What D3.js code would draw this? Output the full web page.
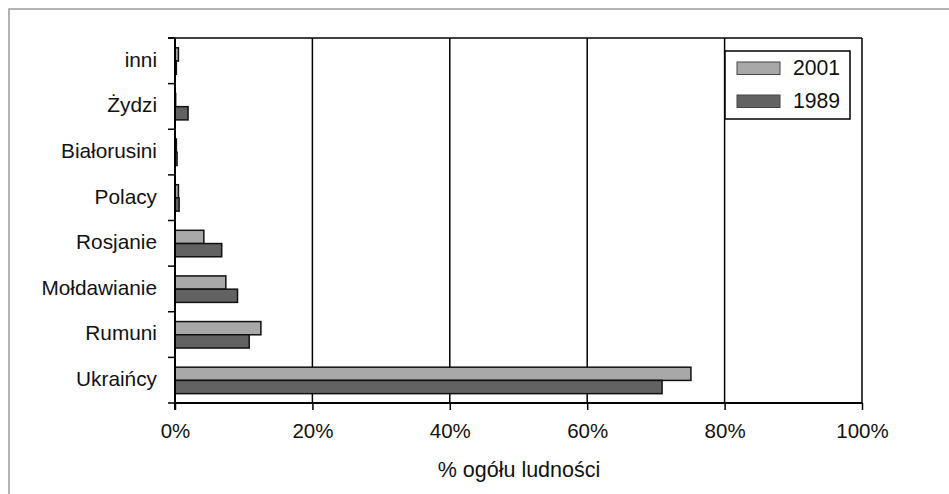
<!DOCTYPE html>
<html><head><meta charset="utf-8">
<script src="https://cdn.jsdelivr.net/npm/d3@7"></script>
<style>body{margin:0;background:#fff;} svg{display:block;font-family:"Liberation Sans",Arial,sans-serif;}</style>
</head><body>
<script>
const categories = ["inni","Żydzi","Białorusini","Polacy","Rosjanie","Mołdawianie","Rumuni","Ukraińcy"];
const series = ["2001","1989"];
const values2001 = [0.5, 0.1, 0.2, 0.5, 4.2, 7.4, 12.5, 75.1];
const values1989 = [0.2, 1.9, 0.3, 0.6, 6.8, 9.1, 10.8, 70.9];
const xTicks = [0,20,40,60,80,100];
const colors = {"2001":"#a8a8a8","1989":"#626262"};
const xTitle = "% ogółu ludności";

const W=949,H=494;
const svg=d3.select("body").append("svg").attr("width",W).attr("height",H);
svg.append("path").attr("d",`M9,${H}V9H${W}`).attr("fill","none").attr("stroke","#9a9a9a").attr("stroke-width",1.5);

const pL=175,pR=862,pT=38,pB=403;
const x=d3.scaleLinear().domain([0,100]).range([pL,pR]);
const y=d3.scaleBand().domain(categories).range([pT,pB]);
const bw=y.bandwidth();
const ys=d3.scaleBand().domain(series).range([0.215*bw,0.795*bw]);

svg.append("g").selectAll("line").data(xTicks.filter(t=>t>0)).join("line")
  .attr("x1",d=>x(d)).attr("x2",d=>x(d)).attr("y1",pT).attr("y2",pB)
  .attr("stroke","#000").attr("stroke-width",1.5);
svg.append("line").attr("x1",pL-7).attr("x2",pR).attr("y1",pT).attr("y2",pT).attr("stroke","#000").attr("stroke-width",1.5);

const data=[];
categories.forEach((c,i)=>{data.push({c,s:"2001",v:values2001[i]});data.push({c,s:"1989",v:values1989[i]});});
svg.append("g").selectAll("rect").data(data).join("rect")
  .attr("x",x(0)).attr("y",d=>y(d.c)+ys(d.s)).attr("width",d=>x(d.v)-x(0)).attr("height",ys.bandwidth())
  .attr("fill",d=>colors[d.s]).attr("stroke","#111").attr("stroke-width",1.5);

const xa=svg.append("g").attr("transform",`translate(0,${pB})`)
  .call(d3.axisBottom(x).tickValues(xTicks).tickFormat(d=>d+"%").tickSize(7).tickPadding(13));
xa.select(".domain").attr("stroke","#000").attr("stroke-width",2).attr("d",`M${pL},0H${pR}`);
xa.selectAll(".tick line").attr("stroke","#000").attr("stroke-width",1.5);
xa.selectAll(".tick text").attr("font-size",20.5).attr("fill","#111").attr("font-family","'Liberation Sans',Arial,sans-serif");

svg.append("line").attr("x1",pL).attr("x2",pL).attr("y1",pT).attr("y2",pB+7).attr("stroke","#000").attr("stroke-width",2);
const bounds=categories.map(c=>y(c)).concat([pB]);
svg.append("g").selectAll("line").data(bounds).join("line")
  .attr("x1",pL-7).attr("x2",pL).attr("y1",d=>d).attr("y2",d=>d).attr("stroke","#000").attr("stroke-width",1.5);
svg.append("g").selectAll("text").data(categories).join("text")
  .attr("x",157).attr("y",d=>y(d)+bw/2).attr("dy","0.28em").attr("text-anchor","end")
  .attr("font-size",20.8).attr("fill","#111").text(d=>d);

svg.append("text").attr("x",519).attr("y",477).attr("text-anchor","middle")
  .attr("font-size",21.5).attr("fill","#111").text(xTitle);

const lg=svg.append("g");
lg.append("rect").attr("x",725).attr("y",51).attr("width",125).attr("height",68).attr("fill","#fff").attr("stroke","#000").attr("stroke-width",1.5);
series.forEach((s,i)=>{
  lg.append("rect").attr("x",737).attr("y",62+i*33).attr("width",43).attr("height",12.5).attr("fill",colors[s]).attr("stroke","#444").attr("stroke-width",1);
  lg.append("text").attr("x",793).attr("y",68+i*33).attr("dy","0.35em").attr("font-size",21.2).attr("fill","#111").text(s);
});
</script>
</body></html>
